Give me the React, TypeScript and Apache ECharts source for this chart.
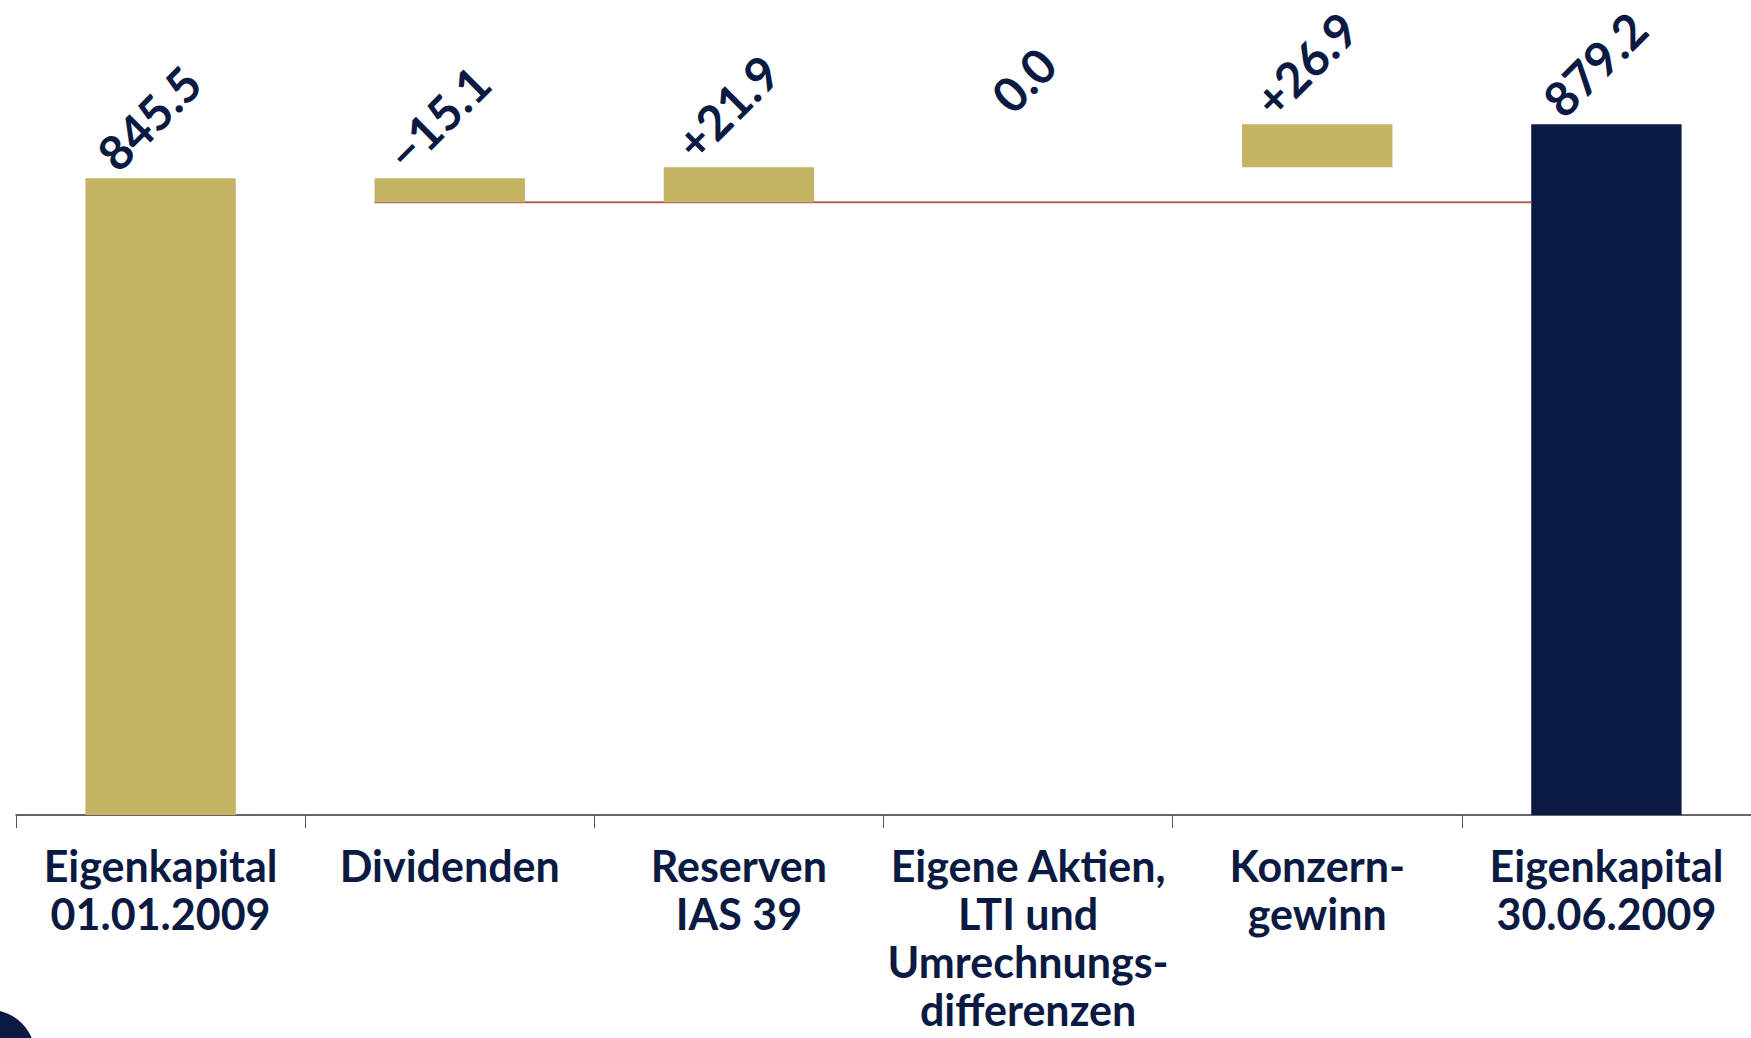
import React, { useEffect, useRef } from "react";
import * as echarts from "echarts";

const categories = [
  "Eigenkapital\n01.01.2009",
  "Dividenden",
  "Reserven\nIAS 39",
  "Eigene Aktien,\nLTI und\nUmrechnungs-\ndifferenzen",
  "Konzern-\ngewinn",
  "Eigenkapital\n30.06.2009",
];
const startValue = 845.5;
const changes = [-15.1, 21.9, 0.0, 26.9];
const endValue = 879.2;

const GOLD = "#C4B265";
const NAVY = "#0B1A42";
const RED = "#AE6650";
const FONT = "Lato";

export default function App() {
  const ref = useRef<HTMLDivElement>(null);

  useEffect(() => {
    if (!ref.current) return;
    const chart = echarts.init(ref.current, undefined, { renderer: "svg" });

    const base: number[] = [0];
    const heights: number[] = [startValue];
    const labels: string[] = [startValue.toFixed(1)];
    const levels: number[] = [startValue];
    let level = startValue;
    changes.forEach((c) => {
      const next = level + c;
      base.push(Math.min(level, next));
      heights.push(Math.abs(c));
      labels.push(c > 0 ? "+" + c.toFixed(1) : c < 0 ? "\u2212" + Math.abs(c).toFixed(1) : c.toFixed(1));
      level = next;
      levels.push(level);
    });
    base.push(0);
    heights.push(endValue);
    labels.push(endValue.toFixed(1));

    const barFrac = 0.52;
    const lineLevel = levels[1];

    const heightItems = heights.map((h) =>
      h === 0 ? { value: h, label: { distance: 64, offset: [-20, -20] } } : h
    );

    chart.setOption({
      animation: false,
      grid: {
        left: 16,
        right: 0,
        top: 40,
        bottom: 223,
        containLabel: false,
        outerBoundsMode: "none",
      },
      xAxis: [
        {
          type: "category",
          data: categories,
          axisLine: { onZero: false, lineStyle: { color: "#333333", width: 1.5 } },
          axisTick: { show: true, length: 13, lineStyle: { color: "#555555", width: 1 } },
          axisLabel: {
            interval: 0,
            margin: 26,
            color: NAVY,
            fontFamily: FONT,
            fontWeight: "bold",
            fontSize: 43,
            lineHeight: 48,
            align: "center",
          },
        },
        { type: "value", min: -0.5, max: 5.5, show: false, axisLine: { onZero: false } },
      ],
      yAxis: {
        type: "value",
        min: 447,
        max: 932,
        show: false,
        splitLine: { show: false },
      },
      graphic: [
        {
          type: "circle",
          shape: { cx: -10, cy: 1055, r: 45 },
          style: { fill: NAVY },
        },
      ],
      series: [
        {
          type: "bar",
          stack: "wf",
          data: base,
          barWidth: barFrac * 100 + "%",
          itemStyle: { color: "transparent" },
          silent: true,
        },
        {
          type: "bar",
          stack: "wf",
          data: heightItems,
          barWidth: barFrac * 100 + "%",
          itemStyle: {
            color: (p: any) => (p.dataIndex === heights.length - 1 ? NAVY : GOLD),
          },
          label: {
            show: true,
            position: "top",
            rotate: 45,
            align: "left",
            verticalAlign: "middle",
            distance: 17,
            offset: [-39, -39],
            formatter: (p: any) => labels[p.dataIndex],
            color: NAVY,
            fontFamily: FONT,
            fontWeight: "bold",
            fontSize: 48,
          },
        },
        {
          type: "line",
          xAxisIndex: 1,
          data: [
            [1 - barFrac / 2, lineLevel],
            [5 - barFrac / 2, lineLevel],
          ],
          symbol: "none",
          lineStyle: { color: RED, width: 2 },
          z: 1,
        },
      ],
    });
    return () => chart.dispose();
  }, []);

  return (
    <div
      ref={ref}
      style={{ position: "absolute", left: 0, top: 0, width: 1751, height: 1038 }}
    />
  );
}
